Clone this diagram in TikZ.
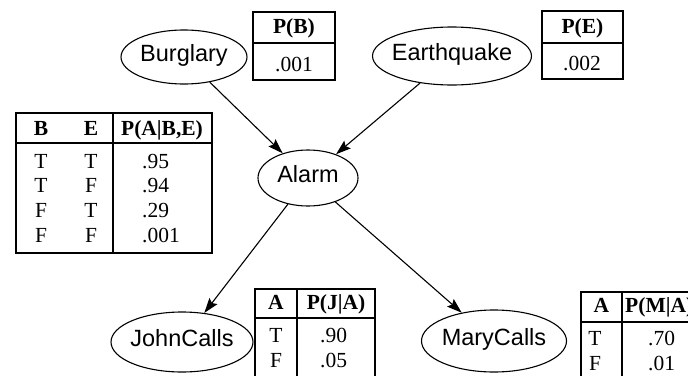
\documentclass[tikz,border=0pt]{standalone}
\usepackage{fontspec}
\setmainfont{Liberation Serif}
\newfontfamily\nodefont{Liberation Sans}
\usetikzlibrary{shapes.geometric,arrows.meta}

% zero-width label so the ellipse size is set only by its minimum size
\newcommand\lbl[1]{\makebox[0pt]{#1}}

\begin{document}
\begin{tikzpicture}[x=1pt,y=-1pt,
  var/.style={draw,ellipse,line width=1.1pt,inner sep=0pt,
    font=\nodefont\fontsize{23.5}{28}\selectfont,text height=17pt,text depth=9pt},
  arr/.style={-{Stealth[length=15pt,width=10pt,inset=2.5pt]},line width=1.1pt},
  cell/.style={font=\fontsize{21.5}{25}\selectfont,inner sep=0pt,anchor=base},
  lcell/.style={cell,anchor=base west},
  hcell/.style={cell,font=\bfseries\fontsize{21.5}{25}\selectfont},
  frame/.style={draw,line width=1.2pt},
  hrule/.style={line width=2pt}
]
\clip (0,0) rectangle (688,375);

% network variables
\node[var,minimum width=126pt,minimum height=54pt] (burglary) at (184,57) {\lbl{Burglary}};
\node[var,minimum width=159pt,minimum height=58pt] (earthquake) at (452,56) {\lbl{Earthquake}};
\node[var,minimum width=100pt,minimum height=56pt] (alarm) at (308,178) {\lbl{Alarm}};
\node[var,minimum width=142pt,minimum height=60pt] (john) at (182,342) {\lbl{JohnCalls}};
\node[var,minimum width=145pt,minimum height=62pt] (mary) at (494,341) {\lbl{MaryCalls}};

% causal links
\draw[arr] (burglary) -- (alarm);
\draw[arr] (earthquake) -- (alarm);
\draw[arr] (alarm) -- (john);
\draw[arr] (alarm) -- (mary);

% P(B)
\draw[frame] (253,12) rectangle (335,80);
\draw[hrule] (253,43) -- (335,43);
\node[hcell] (pbh) at (294,33) {P(B)};
\node[lcell] (pbv) at (275,71) {.001};

% P(E)
\draw[frame] (542,11) rectangle (623,79);
\draw[hrule] (542,43) -- (623,43);
\node[hcell] (peh) at (582.5,33) {P(E)};
\node[lcell] (pev) at (563,70) {.002};

% P(A|B,E)
\draw[frame] (16,113) rectangle (212,253);
\draw[hrule] (16,143) -- (212,143);
\draw[frame] (113,113) -- (113,253);
\node[hcell] (ah1) at (41,135) {B};
\node[hcell] (ah2) at (91,135) {E};
\node[hcell] (ah3) at (162,135) {P(A|B,E)};
\foreach \b/\e/\p [count=\i from 0] in {T/T/.95,T/F/.94,F/T/.29,F/F/.001}{
  \node[cell] (ab\i) at (41,168+24.7*\i) {\b};
  \node[cell] (ae\i) at (91,168+24.7*\i) {\e};
  \node[lcell] (ap\i) at (142,168+24.7*\i) {\p};
}

% P(J|A)
\draw[frame] (255,289) rectangle (375,400);
\draw[hrule] (255,318) -- (375,318);
\draw[frame] (297,289) -- (297,400);
\node[hcell] (jh1) at (276,309) {A};
\node[hcell] (jh2) at (336,309) {P(J|A)};
\node[cell] (ja0) at (276,342) {T};
\node[cell] (ja1) at (276,367) {F};
\node[lcell] (jp0) at (320,342) {.90};
\node[lcell] (jp1) at (320,367) {.05};

% P(M|A), running past the right edge
\draw[frame] (581,292) rectangle (720,400);
\draw[hrule] (581,322) -- (720,322);
\draw[frame] (622,292) -- (622,400);
\node[hcell] (mh1) at (601.5,312) {A};
\node[hcell,anchor=base west] (mh2) at (625,312) {P(M|A)};
\node[cell] (ma0) at (595,345) {T};
\node[cell] (ma1) at (595,370) {F};
\node[lcell] (mp0) at (648,345) {.70};
\node[lcell] (mp1) at (648,370) {.01};
\end{tikzpicture}
\end{document}
